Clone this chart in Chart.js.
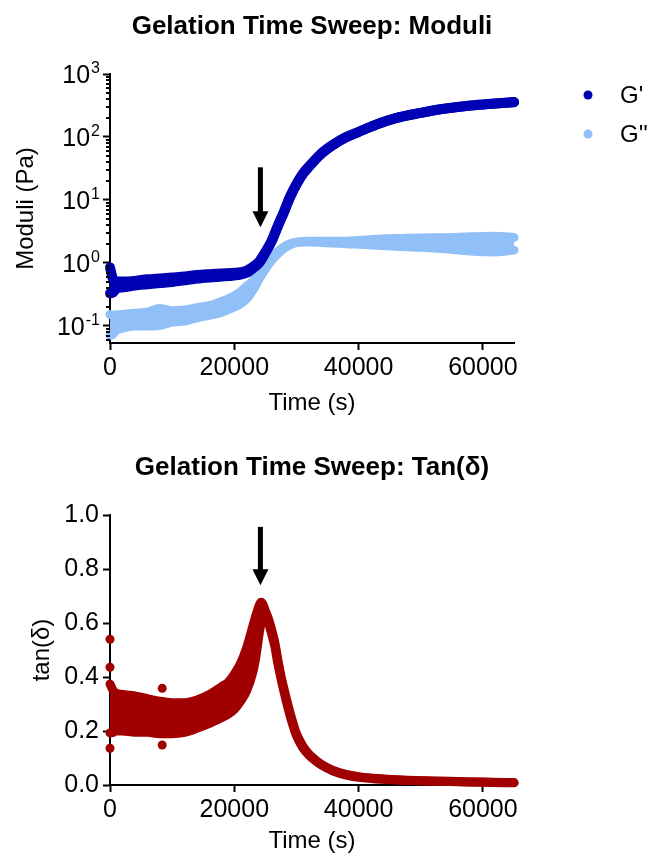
<!DOCTYPE html>
<html>
<head>
<meta charset="utf-8">
<title>Gelation Time Sweep</title>
<script src="https://cdn.jsdelivr.net/npm/chart.js"></script>
<style>
  body { margin: 0; background: #fff; }
  canvas { display: block; }
</style>
</head>
<body>
<canvas id="moduli" width="650" height="430"></canvas>
<canvas id="tand" width="650" height="431"></canvas>
<script>
// --- moduli plot: time (s) and the upper / lower edge of each point cloud (Pa)
const tMod = [0, 500, 1000, 2000, 4000, 6000, 8000, 10000, 12000, 14000,
  16000, 18000, 20000, 21000, 22000, 23000, 24000, 25000, 26000, 27000,
  28000, 29000, 30000, 31000, 32000, 34000, 36000, 38000, 40000, 43000,
  46000, 50000, 54000, 58000, 62000, 65000];
const gpHi = [0.85, 0.55, 0.51, 0.51, 0.52, 0.55, 0.57, 0.59, 0.61, 0.645,
  0.665, 0.68, 0.70, 0.715, 0.76, 0.87, 1.06, 1.5, 2.25, 3.9,
  6.6, 11.5, 18, 26, 34, 55, 77, 100, 121, 160,
  200, 242, 283, 316, 340, 358];
const gpLo = [0.33, 0.34, 0.39, 0.41, 0.44, 0.46, 0.48, 0.50, 0.53, 0.565,
  0.59, 0.61, 0.635, 0.655, 0.70, 0.82, 1.0, 1.45, 2.2, 3.8,
  6.4, 11.2, 17.5, 25.5, 33.5, 54, 76, 99, 120, 159,
  199, 241, 282, 315, 339, 357];
const gppHi = [0.152, 0.15, 0.15, 0.152, 0.16, 0.165, 0.19, 0.175, 0.18, 0.195,
  0.21, 0.245, 0.30, 0.35, 0.43, 0.52, 0.74, 1.0, 1.27, 1.52,
  1.8, 2.02, 2.15, 2.2, 2.22, 2.22, 2.22, 2.22, 2.28, 2.38,
  2.45, 2.5, 2.52, 2.6, 2.65, 2.55];
const gppLo = [0.071, 0.075, 0.085, 0.092, 0.10, 0.10, 0.102, 0.115, 0.12, 0.135,
  0.148, 0.165, 0.2, 0.225, 0.27, 0.37, 0.56, 0.8, 1.1, 1.4,
  1.7, 1.95, 2.1, 2.15, 2.15, 2.12, 2.08, 2.02, 1.98, 1.92,
  1.85, 1.78, 1.68, 1.55, 1.5, 1.6];
const seriesNames = ["G'", "G''"];

// --- tan(delta) plot
const tTan = [0, 500, 1000, 2000, 4000, 6000, 8000, 10000, 12000, 14000,
  16000, 18000, 19000, 20000, 21000, 22000, 23000, 23500, 24000, 24300,
  24600, 25000, 25500, 26000, 26500, 27000, 27500, 28000, 29000, 30000,
  31000, 32000, 33000, 34000, 36000, 38000, 40000, 44000, 48000, 52000,
  56000, 60000, 65000];
const tanHi = [0.374, 0.35, 0.34, 0.335, 0.33, 0.32, 0.31, 0.305, 0.305, 0.315,
  0.335, 0.365, 0.38, 0.41, 0.45, 0.51, 0.59, 0.63, 0.665, 0.677,
  0.67, 0.645, 0.615, 0.575, 0.53, 0.465, 0.405, 0.355, 0.265, 0.19,
  0.145, 0.115, 0.094, 0.077, 0.053, 0.039, 0.031, 0.022, 0.018, 0.015,
  0.013, 0.011, 0.009];
const tanLo = [0.193, 0.195, 0.2, 0.2, 0.195, 0.195, 0.19, 0.19, 0.195, 0.21,
  0.228, 0.25, 0.262, 0.28, 0.31, 0.35, 0.42, 0.48, 0.56, 0.60,
  0.63, 0.625, 0.6, 0.56, 0.515, 0.45, 0.395, 0.345, 0.255, 0.183,
  0.139, 0.111, 0.091, 0.074, 0.051, 0.037, 0.029, 0.021, 0.017, 0.014,
  0.012, 0.01, 0.008];
// stray points that sit outside the cloud
const tanOutX = [0, 0, 0, 8400, 8400];
const tanOutY = [0.54, 0.436, 0.136, 0.358, 0.148];

const modTicks = [0.1, 1, 10, 100, 1000];
const tanTicks = [0, 0.2, 0.4, 0.6, 0.8, 1.0];
const timeTicks = [0, 20000, 40000, 60000];

// arrows: [time, start value, tip value]
const modArrow = [24200, 33, 3.7];
const tanArrow = [24200, 0.956, 0.74];

const GP = '#0000b4', GPP = '#91bff7', TAN = '#a00000';
const seriesColors = [GP, GPP];
const FONT = "'Liberation Sans', Arial, sans-serif";

Chart.defaults.font.family = FONT;
Chart.defaults.color = '#000';

function band(xs, hi, lo, color, w) {
  const pts = arr => xs.map((x, i) => ({ x: x, y: arr[i] }));
  const base = {
    showLine: true, borderColor: color, backgroundColor: color, borderWidth: w,
    pointRadius: 0, cubicInterpolationMode: 'monotone',
    borderCapStyle: 'round', borderJoinStyle: 'round', clip: 8
  };
  return [
    Object.assign({}, base, { data: pts(lo), fill: false }),
    Object.assign({}, base, { data: pts(hi), fill: '-1' })
  ];
}

function setTicks(list) {
  return s => { s.ticks = list.map(v => ({ value: v })); };
}

const axisLine = { display: true, color: '#000', width: 2 };
const tickMarks = { display: true, drawOnChartArea: false, drawTicks: true, tickLength: 7, tickWidth: 2, tickColor: '#000' };

function timeAxis(h, pad) {
  return {
    type: 'linear', min: 0, max: 65000,
    afterBuildTicks: setTicks(timeTicks),
    afterFit: s => { s.height = h; },
    ticks: { font: { size: 25 }, padding: 3, maxRotation: 0, callback: v => String(v) },
    grid: tickMarks, border: axisLine,
    title: { display: true, text: 'Time (s)', font: { size: 24 }, padding: { top: 0, bottom: pad } }
  };
}

function titlePlugin(text, y) {
  return {
    id: 'sweepTitle',
    afterDraw(chart) {
      const a = chart.chartArea, ctx = chart.ctx;
      ctx.save();
      ctx.font = 'bold 26px ' + FONT;
      ctx.fillStyle = '#000';
      ctx.textAlign = 'center';
      ctx.textBaseline = 'middle';
      ctx.fillText(text, (a.left + a.right) / 2, y);
      ctx.restore();
    }
  };
}

function arrowPlugin(arr) {
  return {
    id: 'arrow',
    afterDatasetsDraw(chart) {
      const x = chart.scales.x.getPixelForValue(arr[0]);
      const y0 = chart.scales.y.getPixelForValue(arr[1]);
      const y1 = chart.scales.y.getPixelForValue(arr[2]);
      const ctx = chart.ctx;
      ctx.save();
      ctx.fillStyle = '#000';
      ctx.fillRect(x - 2.5, y0, 5, y1 - y0 - 14);
      ctx.beginPath();
      ctx.moveTo(x - 8, y1 - 16);
      ctx.lineTo(x + 8, y1 - 16);
      ctx.lineTo(x, y1);
      ctx.closePath();
      ctx.fill();
      ctx.restore();
    }
  };
}

// 10^n labels and minor ticks for the log axis
const powerLabels = {
  id: 'powerLabels',
  afterDraw(chart) {
    const s = chart.scales.y, a = chart.chartArea, ctx = chart.ctx;
    ctx.save();
    ctx.fillStyle = '#000';
    ctx.strokeStyle = '#000';
    ctx.lineWidth = 2;
    for (let k = -2; k < 3; k++) {
      for (let m = 2; m < 10; m++) {
        const v = m * Math.pow(10, k);
        if (v < s.min || v > s.max) continue;
        const y = Math.round(s.getPixelForValue(v));
        ctx.beginPath();
        ctx.moveTo(a.left - 4, y);
        ctx.lineTo(a.left, y);
        ctx.stroke();
      }
    }
    ctx.textAlign = 'right';
    ctx.textBaseline = 'middle';
    modTicks.forEach(v => {
      const y = s.getPixelForValue(v);
      const e = String(Math.round(Math.log10(v)));
      const ex = a.left - 10;
      ctx.font = '16px ' + FONT;
      ctx.fillText(e, ex, y - 5);
      const w = ctx.measureText(e).width;
      ctx.font = '25px ' + FONT;
      ctx.fillText('10', ex - w - 1, y + 2);
    });
    ctx.restore();
  }
};

const sideLegend = {
  id: 'sideLegend',
  afterDraw(chart) {
    const a = chart.chartArea, ctx = chart.ctx;
    ctx.save();
    seriesNames.forEach((name, i) => {
      const y = a.top + 21 + i * 39;
      ctx.fillStyle = seriesColors[i];
      ctx.beginPath();
      ctx.arc(a.right + 74, y, 4.5, 0, Math.PI * 2);
      ctx.fill();
      ctx.fillStyle = '#000';
      ctx.font = '24px ' + FONT;
      ctx.textAlign = 'left';
      ctx.textBaseline = 'middle';
      ctx.fillText(name, a.right + 106, y + 1);
    });
    ctx.restore();
  }
};

new Chart(document.getElementById('moduli'), {
  type: 'scatter',
  data: {
    datasets: [].concat(
      band(tMod, gpHi, gpLo, GP, 10),
      band(tMod, gppHi, gppLo, GPP, 9)
    )
  },
  options: {
    responsive: false, animation: false, events: [],
    layout: { padding: { top: 74, right: 136, left: 0, bottom: 0 } },
    plugins: { legend: { display: false }, tooltip: { enabled: false } },
    scales: {
      x: timeAxis(87, 12),
      y: {
        type: 'logarithmic', min: 0.0537, max: 1000,
        afterBuildTicks: setTicks(modTicks),
        afterFit: s => { s.width = 110; },
        ticks: { display: false },
        grid: tickMarks, border: axisLine,
        title: { display: true, text: 'Moduli (Pa)', font: { size: 24 }, padding: { top: 12, bottom: 0 } }
      }
    }
  },
  plugins: [titlePlugin('Gelation Time Sweep: Moduli', 27), arrowPlugin(modArrow), powerLabels, sideLegend]
});

new Chart(document.getElementById('tand'), {
  type: 'scatter',
  data: {
    datasets: band(tTan, tanHi, tanLo, TAN, 9).concat([{
      data: tanOutX.map((x, i) => ({ x: x, y: tanOutY[i] })),
      pointRadius: 4.5, pointBackgroundColor: TAN, pointBorderWidth: 0,
      showLine: false, clip: false
    }])
  },
  options: {
    responsive: false, animation: false, events: [],
    layout: { padding: { top: 85, right: 136, left: 0, bottom: 0 } },
    plugins: { legend: { display: false }, tooltip: { enabled: false } },
    scales: {
      x: timeAxis(76, 5),
      y: {
        type: 'linear', min: 0, max: 1,
        afterBuildTicks: setTicks(tanTicks),
        afterFit: s => { s.width = 110; },
        ticks: { font: { size: 25 }, padding: 4, callback: v => v.toFixed(1) },
        grid: tickMarks, border: axisLine,
        title: { display: true, text: 'tan(δ)', font: { size: 24 }, padding: { top: 28, bottom: 0 } }
      }
    }
  },
  plugins: [titlePlugin('Gelation Time Sweep: Tan(δ)', 38), arrowPlugin(tanArrow)]
});
</script>
</body>
</html>
